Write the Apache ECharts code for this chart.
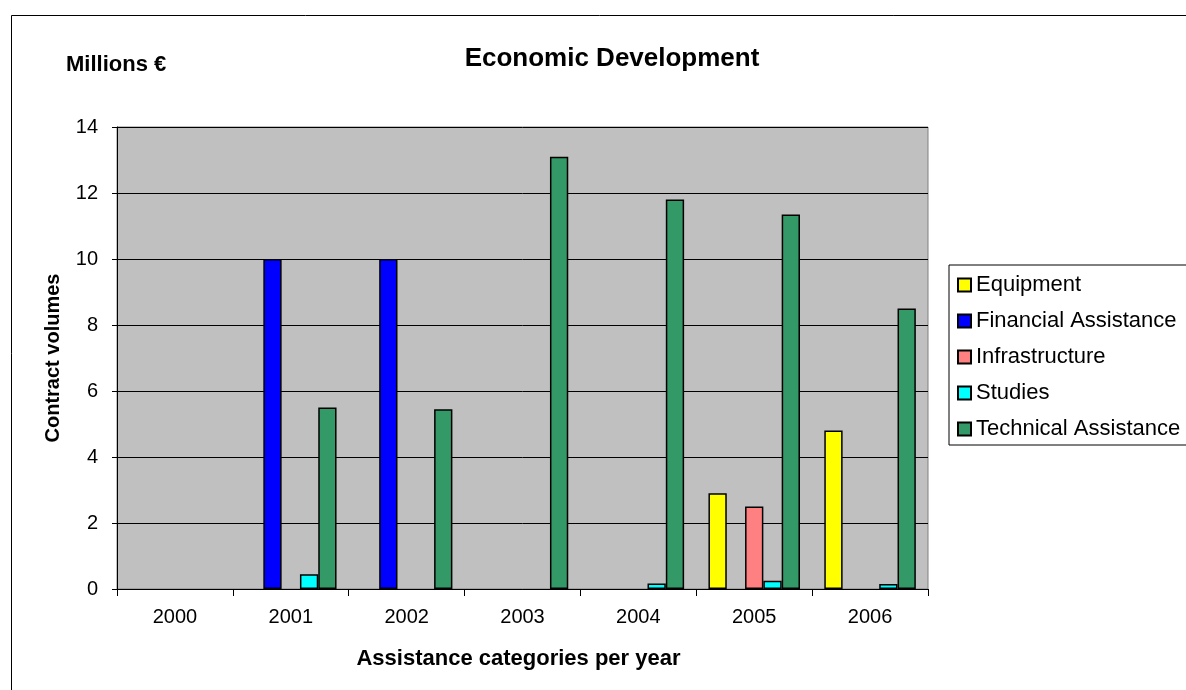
<!DOCTYPE html>
<html><head><meta charset="utf-8">
<script src="https://cdn.jsdelivr.net/npm/echarts@6/dist/echarts.min.js"></script>
<style>html,body{margin:0;padding:0;background:#fff}#c{width:1186px;height:690px}</style>
</head><body><div id="c"></div>
<script>
const years = ['2000','2001','2002','2003','2004','2005','2006'];
const seriesNames = ['Equipment','Financial Assistance','Infrastructure','Studies','Technical Assistance'];
const equipment = [0,0,0,0,0,2.9,4.8];
const financial = [0,10,10,0,0,0,0];
const infrastructure = [0,0,0,0,0,2.5,0];
const studies = [0,0.45,0,0,0.17,0.25,0.15];
const technical = [0,5.5,5.45,13.1,11.8,11.35,8.5];
const colors = ['#FFFF00','#0000FF','#FF8080','#00FFFF','#339966'];
const yTicks = [0,2,4,6,8,10,12,14];

const dataSets = [equipment, financial, infrastructure, studies, technical];
const font = 'Liberation Sans, Arial, sans-serif';
const chart = echarts.init(document.getElementById('c'));
chart.setOption({
  animation:false,
  backgroundColor:'#fff',
  title:{text:'Economic Development',left:607,top:41,textAlign:'center',
    textStyle:{fontFamily:font,fontSize:26,fontWeight:'bold',color:'#000'}},
  graphic:[
    {type:'rect',shape:{x:11.5,y:15.5,width:1180,height:680},style:{fill:'none',stroke:'#000',lineWidth:1}},
    {type:'text',left:66,top:54,style:{text:'Millions €',font:'bold 22px '+font,fill:'#000'}}
  ],
  legend:{orient:'vertical',left:949,top:265,data:seriesNames,
    itemWidth:13,itemHeight:13,itemGap:14,padding:[9,40,5,8],
    borderColor:'#000',borderWidth:1,backgroundColor:'#fff',
    textStyle:{fontFamily:font,fontSize:22,color:'#000',lineHeight:22},
    icon:'rect'},
  grid:{left:117,top:127,width:811,height:462,show:true,borderColor:'#808080',borderWidth:1,backgroundColor:'#C0C0C0'},
  xAxis:{type:'category',data:years,
    name:'Assistance categories per year',nameLocation:'middle',nameGap:59,
    nameTextStyle:{fontFamily:font,fontSize:22,fontWeight:'bold',color:'#000',padding:[0,8,0,0]},
    axisLine:{lineStyle:{color:'#000'}},
    axisTick:{show:true,length:7,lineStyle:{color:'#000'}},
    axisLabel:{fontFamily:font,fontSize:20,color:'#000',margin:18}},
  yAxis:{type:'value',min:0,max:14,interval:2,
    name:'Contract volumes',nameLocation:'middle',nameGap:54,nameRotate:90,
    nameTextStyle:{fontFamily:font,fontSize:20,fontWeight:'bold',color:'#000'},
    axisLine:{show:true,lineStyle:{color:'#000'}},
    axisTick:{show:true,length:5,lineStyle:{color:'#000'}},
    axisLabel:{fontFamily:font,fontSize:20,color:'#000',margin:19,
      formatter:v=>yTicks.includes(v)?String(v):''},
    splitLine:{show:true,lineStyle:{color:'#000',width:1}}},
  series: seriesNames.map((n,i)=>({
    name:n,type:'bar',data:dataSets[i].map(v=>v===0?null:v),
    barGap:'0%',barCategoryGap:'21%',
    itemStyle:{color:colors[i],borderColor:'#000',borderWidth:1.5}
  }))
});
</script></body></html>
